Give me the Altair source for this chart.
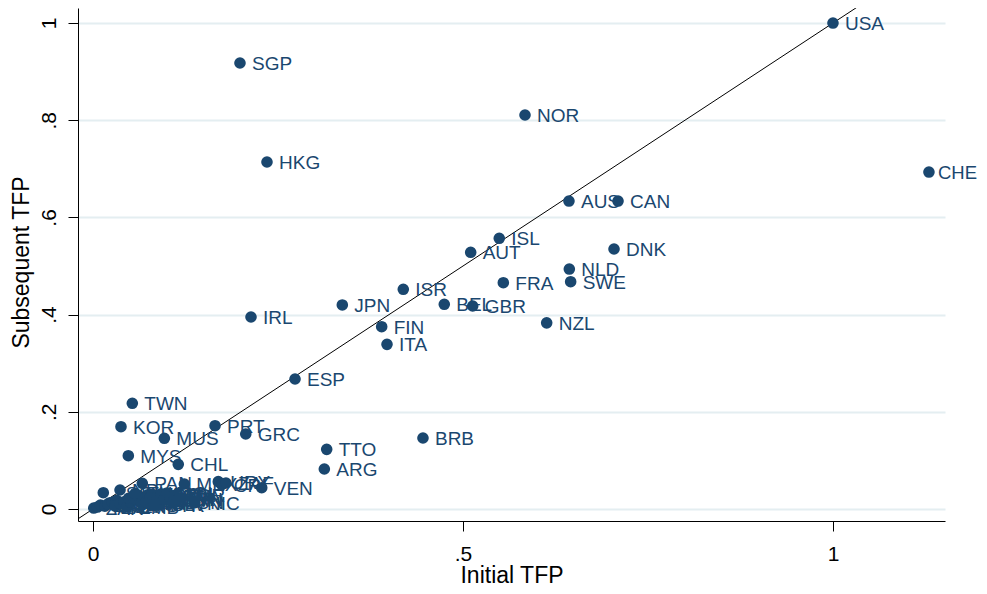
import altair as alt
import pandas as pd

# Country codes, initial TFP (x) and subsequent TFP (y)
countries = [
    "USA", "SGP", "NOR", "HKG", "CHE", "AUS", "CAN", "DNK", "ISL", "AUT",
    "NLD", "SWE", "FRA", "ISR", "JPN", "BEL", "GBR", "NZL", "IRL", "FIN",
    "ITA", "ESP", "TWN", "KOR", "MUS", "PRT", "GRC", "MYS", "CHL", "TTO",
    "ARG", "BRB", "VEN", "PAN", "MEX", "URY", "CRI", "ZAF", "NIC",
    "LSO", "NPL", "ZAR", "TZA", "ETH", "UGA", "MWI", "BGD", "IND", "PAK",
    "KEN", "GHA", "NGA", "ZMB", "ZWE", "LKA", "IDN", "PHL", "EGY", "MAR",
    "BOL", "HND", "PRY", "THA", "TUR", "JAM", "DOM", "GTM", "SLV", "ECU",
    "PER", "COL", "BRA", "TUN", "JOR", "SYR", "IRN",
]
initial_tfp = [
    1.000, 0.1986, 0.5838, 0.2351, 1.1297, 0.6432, 0.7095, 0.7041, 0.5490, 0.5104,
    0.6437, 0.6455, 0.5545, 0.4193, 0.3369, 0.4747, 0.5131, 0.6131, 0.2135, 0.3901,
    0.3973, 0.2730, 0.0531, 0.0378, 0.0964, 0.1649, 0.2064, 0.0477, 0.1152, 0.3158,
    0.3126, 0.4459, 0.2280, 0.0666, 0.1234, 0.1693, 0.1740, 0.1797, 0.1378,
    0.0139, 0.0365, 0.0010, 0.0060, 0.0100, 0.0160, 0.0220, 0.0200, 0.0260, 0.0320,
    0.0300, 0.0370, 0.0420, 0.0460, 0.0510, 0.0480, 0.0540, 0.0590, 0.0620, 0.0650,
    0.0680, 0.0710, 0.0740, 0.0570, 0.0770, 0.0800, 0.0840, 0.0870, 0.0900, 0.0920,
    0.0960, 0.1000, 0.1040, 0.1080, 0.1110, 0.0820, 0.1150,
]
subsequent_tfp = [
    1.000, 0.9177, 0.8107, 0.7140, 0.6934, 0.6337, 0.6337, 0.5350, 0.5570, 0.5282,
    0.4938, 0.4677, 0.4656, 0.4521, 0.4198, 0.4212, 0.4177, 0.3830, 0.3951, 0.3751,
    0.3388, 0.2675, 0.2175, 0.1693, 0.1455, 0.1714, 0.1543, 0.1096, 0.0919, 0.1228,
    0.0823, 0.1461, 0.0438, 0.0529, 0.0514, 0.0562, 0.0500, 0.0535, 0.0130,
    0.0335, 0.0391, 0.0020, 0.0040, 0.0080, 0.0060, 0.0120, 0.0100, 0.0140, 0.0180,
    0.0060, 0.0110, 0.0150, 0.0050, 0.0140, 0.0220, 0.0240, 0.0180, 0.0270, 0.0120,
    0.0210, 0.0150, 0.0290, 0.0320, 0.0230, 0.0300, 0.0180, 0.0260, 0.0100, 0.0310,
    0.0200, 0.0330, 0.0240, 0.0140, 0.0280, 0.0080, 0.0200,
]

# 45-degree reference line (y = x)
diag_x = [-0.03, 1.10]

y_ticks = [0, 0.2, 0.4, 0.6, 0.8, 1]
x_ticks = [0, 0.5, 1]

NAVY = "#1a476f"
FONT = "Liberation Sans"

df = pd.DataFrame({"country": countries, "x": initial_tfp, "y": subsequent_tfp})
diag = pd.DataFrame({"x": diag_x, "y": diag_x})

xscale = alt.Scale(domain=[-0.0203, 1.1514], nice=False, zero=False)
yscale = alt.Scale(domain=[-0.0247, 1.0309], nice=False, zero=False)

label_expr = "datum.value == 0 ? '0' : (datum.value == 1 ? '1' : replace(format(datum.value, '.1f'), '0.', '.'))"

x_axis = alt.Axis(
    values=x_ticks, labelExpr=label_expr, grid=False, domainColor="black",
    tickColor="black", tickSize=10, labelFontSize=21, labelFont=FONT,
    labelColor="black", labelBaseline="alphabetic", labelPadding=29,
    title="Initial TFP", titleFont=FONT, titleFontSize=23, titleFontWeight="normal",
    titleColor="black", titleBaseline="alphabetic", titleY=61, titleX=433.5,
    titleAnchor="middle", titleAlign="center",
)
y_axis = alt.Axis(
    values=y_ticks, labelExpr=label_expr, grid=True, gridColor="#e4eef1",
    gridWidth=2, domainColor="black", tickColor="black", tickSize=10,
    labelFontSize=21, labelFont=FONT, labelColor="black", labelAngle=270,
    labelAlign="center", labelBaseline="alphabetic", labelPadding=13,
    title="Subsequent TFP", titleFont=FONT, titleFontSize=23,
    titleFontWeight="normal", titleColor="black", titleAngle=270,
    titleBaseline="alphabetic", titleAlign="center", titleX=-50, titleY=254,
)

line = alt.Chart(diag).mark_line(color="black", strokeWidth=1, clip=True).encode(
    x=alt.X("x:Q", scale=xscale, axis=x_axis),
    y=alt.Y("y:Q", scale=yscale, axis=y_axis),
)

points = alt.Chart(df).mark_circle(size=135, opacity=1, color=NAVY).encode(
    x=alt.X("x:Q", scale=xscale),
    y=alt.Y("y:Q", scale=yscale),
)

labels = alt.Chart(df).transform_filter(
    alt.datum.country != "CHE"
).mark_text(
    align="left", baseline="alphabetic", dx=12, dy=7, fontSize=19,
    font=FONT, color=NAVY,
).encode(
    x=alt.X("x:Q", scale=xscale),
    y=alt.Y("y:Q", scale=yscale),
    text="country:N",
)

# the label at the far right edge is nudged slightly so it stays inside the page
edge_label = alt.Chart(df).transform_filter(
    alt.datum.country == "CHE"
).mark_text(
    align="left", baseline="alphabetic", dx=9, dy=7, fontSize=18.5,
    font=FONT, color=NAVY,
).encode(
    x=alt.X("x:Q", scale=xscale),
    y=alt.Y("y:Q", scale=yscale),
    text="country:N",
)

chart = alt.layer(line, points, labels, edge_label).properties(
    width=867, height=513,
    autosize=alt.AutoSizeParams(type="none"),
    padding={"left": 70, "top": 0, "right": 34, "bottom": 65},
    background="white",
).configure_view(stroke=None)

chart.save("out.html", embed_options={"renderer": "svg", "actions": False})
